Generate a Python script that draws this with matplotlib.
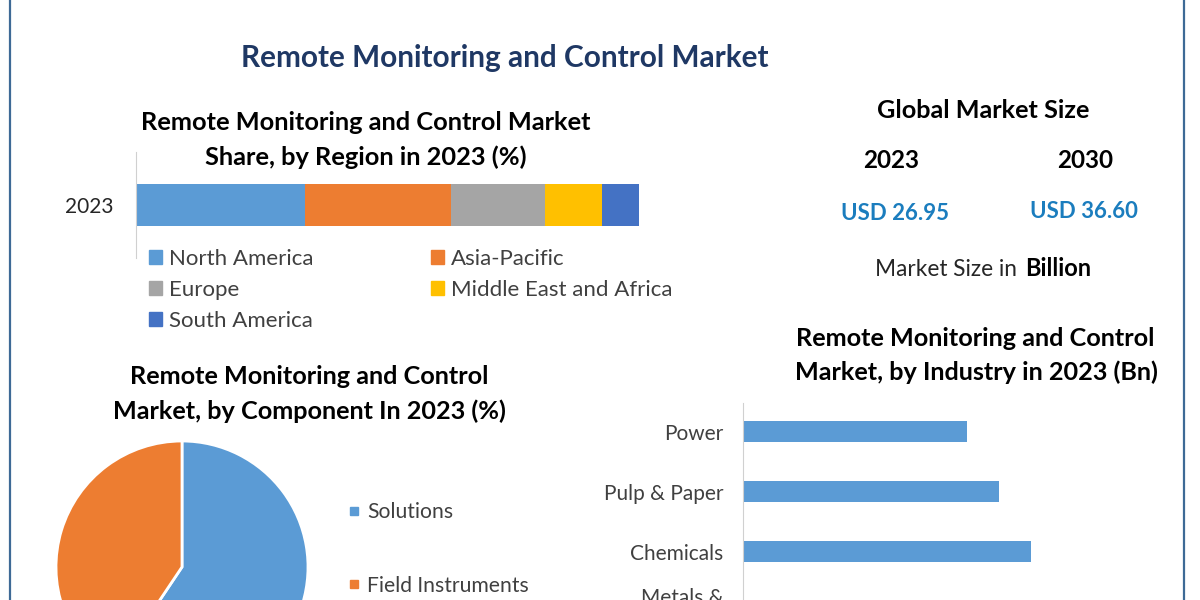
from matplotlib import pyplot as plt
from matplotlib.patches import Patch
from matplotlib.lines import Line2D
from matplotlib.transforms import ScaledTranslation

plt.rcParams['font.family'] = ['Lato', 'DejaVu Sans']

W, H = 1200, 600

main_title = "Remote Monitoring and Control Market"

regions = ["North America", "Asia-Pacific", "Europe", "Middle East and Africa", "South America"]
region_share = [33.6, 29.0, 18.7, 11.3, 7.4]
region_colors = ["#5B9BD5", "#ED7D31", "#A5A5A5", "#FFC000", "#4472C4"]

components = ["Solutions", "Field Instruments"]
component_share = [59.4, 40.6]
component_colors = ["#5B9BD5", "#ED7D31"]

industries = ["Power", "Pulp & Paper", "Chemicals", "Metals &\nMining"]
industry_size = [5.62, 6.42, 7.22, 6.6]

market_years = ["2023", "2030"]
market_values = ["USD 26.95", "USD 36.60"]

fig = plt.figure(figsize=(W / 100, H / 100), dpi=100, facecolor="white")


def px_axes(left, top, right, bottom):
    # axes given in picture pixels, y going down
    return fig.add_axes([left / W, 1 - bottom / H, (right - left) / W, (bottom - top) / H])


def px_text(x, y, s, **kw):
    kw.setdefault("ha", "center")
    kw.setdefault("va", "center")
    return fig.text(x / W, 1 - y / H, s, **kw)


# outer frame, only the sides are on the picture
for x in (10, 1184):
    fig.add_artist(Line2D([x / W, x / W], [0, 1], color="#3E6A96", lw=1.6))

px_text(505, 58.5, main_title, fontsize=21.4, fontweight="bold", color="#1F3864")

# stacked region bar
px_text(366, 123, "Remote Monitoring and Control Market", fontsize=18.3, fontweight="bold", color="black")
px_text(366, 157, "Share, by Region in 2023 (%)", fontsize=18.3, fontweight="bold", color="black")

ax = px_axes(136, 152, 639, 258)
left = 0
for name, val, col in zip(regions, region_share, region_colors):
    ax.barh(["2023"], [val], left=left, height=0.405, color=col, label=name)
    left += val
ax.set_xlim(0, sum(region_share))
ax.set_ylim(-0.5, 0.5)
ax.patch.set_alpha(0)
for s in ("top", "right", "bottom"):
    ax.spines[s].set_visible(False)
ax.spines["left"].set_color("#D0D0D0")
ax.set_xticks([])
ax.tick_params(axis="y", length=0, pad=16, labelsize=15, labelcolor="#262626")

order = [0, 2, 4, 1, 3]
handles = [Patch(color=region_colors[i], label=regions[i]) for i in order]
fig.legend(handles=handles, ncol=2, frameon=False, loc="upper left",
           bbox_to_anchor=(149 / W, 1 - 249 / H), fontsize=16, labelcolor="#404040",
           handlelength=0.6, handleheight=0.6, handletextpad=0.32,
           labelspacing=0.5, columnspacing=5.25, borderpad=0, borderaxespad=0)

# component pie
px_text(309, 377, "Remote Monitoring and Control", fontsize=18.2, fontweight="bold", color="black")
px_text(309, 411, "Market, by Component In 2023 (%)", fontsize=18.2, fontweight="bold", color="black")

ax = px_axes(56, 441, 308, 693)
ax.pie(component_share, colors=component_colors, startangle=90, counterclock=False,
       wedgeprops={"edgecolor": "white", "linewidth": 2})
ax.set_xlim(-1, 1)
ax.set_ylim(-1, 1)

handles = [Line2D([], [], ls="none", marker="s", ms=6, color=c, label=n)
           for n, c in zip(components, component_colors)]
fig.legend(handles=handles, frameon=False, loc="upper left",
           bbox_to_anchor=(347 / W, 1 - 502 / H), fontsize=15.2, labelcolor="#404040",
           handlelength=0.7, handletextpad=0.25, labelspacing=2.55, borderpad=0, borderaxespad=0)

# market size panel
px_text(983, 110, "Global Market Size", fontsize=18.2, fontweight="bold", color="black")
for x, year in zip((891, 1085), market_years):
    px_text(x, 161, year, fontsize=17.5, fontweight="bold", color="black")
for x, y, val in zip((895, 1084), (214, 212), market_values):
    px_text(x, y, val, fontsize=16, fontweight="bold", color="#1B7DBE")
px_text(875, 270, "Market Size in ", fontsize=16.3, color="#262626", ha="left")
px_text(1025, 269, "Billion", fontsize=17, fontweight="bold", color="black", ha="left")

# industry bars
px_text(975, 339, "Remote Monitoring and Control", fontsize=18.2, fontweight="bold", color="black")
px_text(976, 372, "Market, by Industry in 2023 (Bn)", fontsize=18.2, fontweight="bold", color="black")

ax = px_axes(743, 403, 1170, 640)
ax.barh(range(len(industries)), industry_size, height=0.35, color="#5B9BD5")
ax.set_yticks(range(len(industries)), industries, linespacing=2.2)
ax.set_ylim(3.475, -0.475)
ax.set_xlim(0, 427 / 39.85)
ax.patch.set_alpha(0)
for s in ("top", "right", "bottom"):
    ax.spines[s].set_visible(False)
ax.spines["left"].set_color("#D0D0D0")
ax.set_xticks([])
ax.tick_params(axis="y", length=0, pad=14, labelsize=15, labelcolor="#404040")
# two-line label sits a bit higher in the original
last = ax.get_yticklabels()[-1]
last.set_transform(last.get_transform() + ScaledTranslation(0, 6 / 100, fig.dpi_scale_trans))

fig.savefig("out.png", dpi=100)
